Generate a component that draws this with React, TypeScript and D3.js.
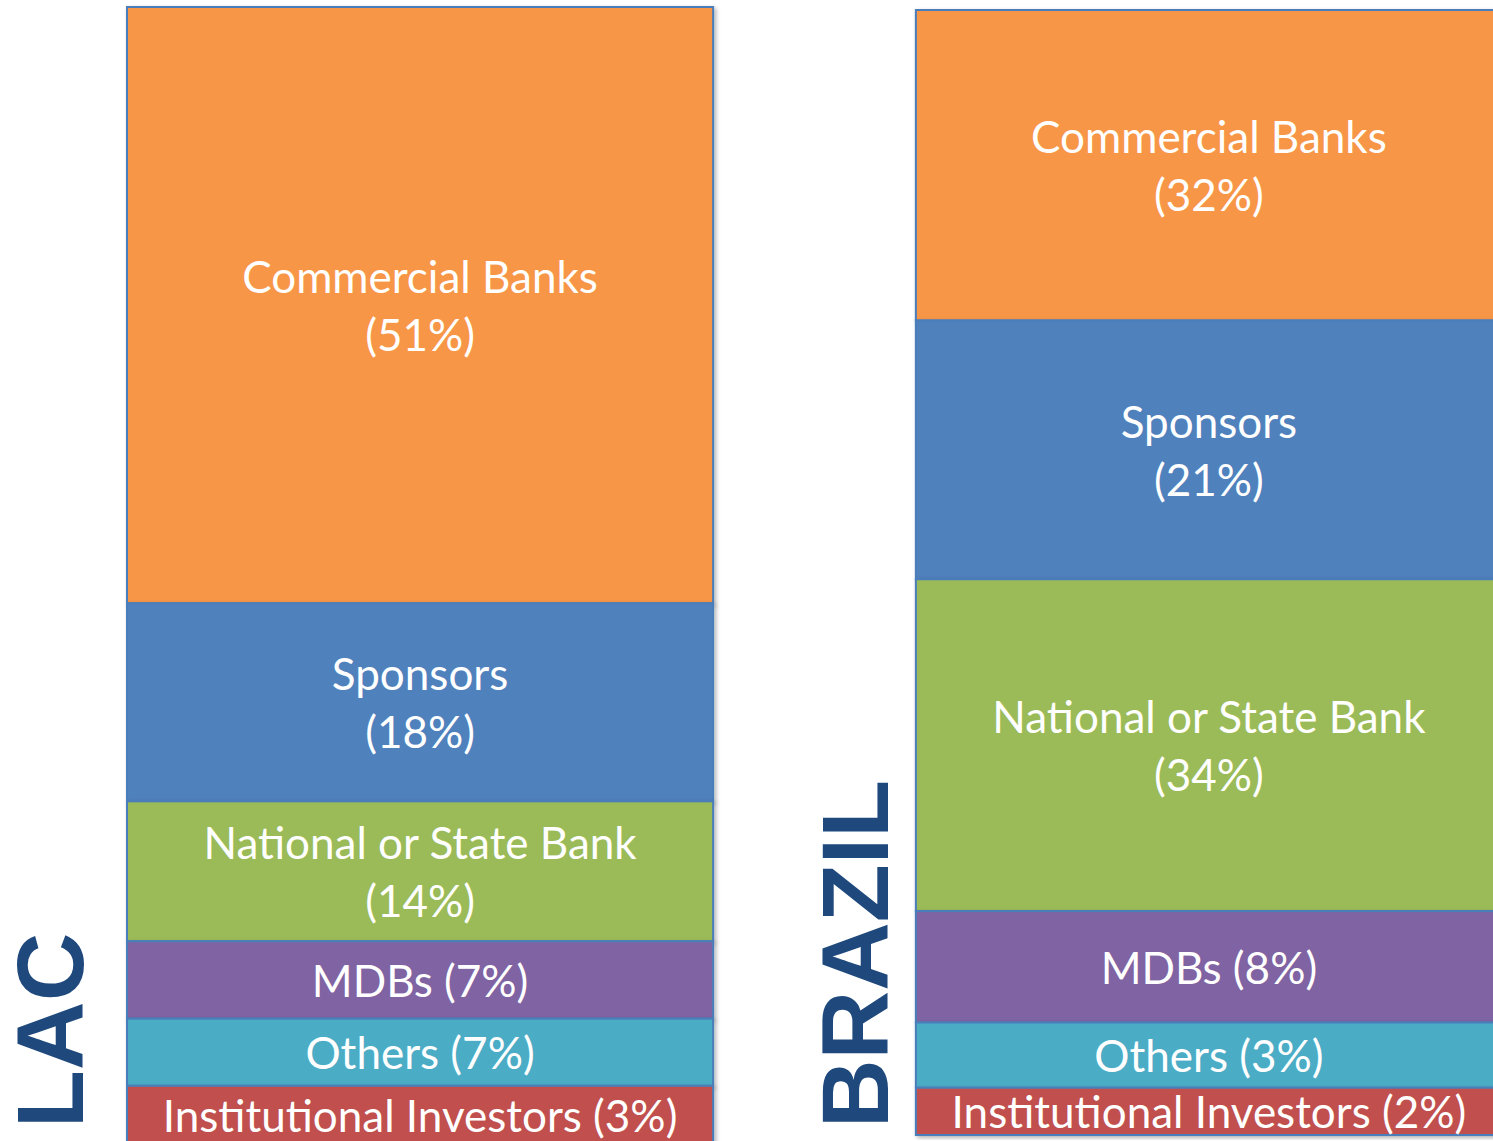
import { cumsum, scaleBand, scaleLinear } from "d3";

const categories = [
    "Commercial Banks",
    "Sponsors",
    "National or State Bank",
    "MDBs",
    "Others",
    "Institutional Investors",
];
const regions = ["LAC", "BRAZIL"];

// percentages printed in the labels
const lacShares = [51, 18, 14, 7, 7, 3];
const brazilShares = [32, 21, 34, 8, 3, 2];

// share of each bar's height (%)
const lacDrawn = [52.4, 17.4, 12.3, 6.8, 5.9, 5.2];
const brazilDrawn = [27.6, 23.0, 29.5, 9.9, 5.8, 4.2];

const twoLine = [true, true, true, false, false, false];
const colors = ["#F79646", "#4F81BD", "#9BBB59", "#8064A2", "#4BACC6", "#C0504D"];

const labelFont = "Lato, 'Open Sans', sans-serif";

interface BarProps {
    region: string;
    shares: number[];
    drawn: number[];
    x: number;
    width: number;
    top: number;
    bottom: number;
}

function StackedBar({ region, shares, drawn, x, width, top, bottom }: BarProps) {
    const y = scaleLinear().domain([0, 100]).range([top, bottom]);
    const ends = Array.from(cumsum(drawn));
    const cx = x + width / 2;

    return (
        <g>
            {categories.map((cat, i) => {
                const y0 = y(i === 0 ? 0 : ends[i - 1]);
                const y1 = y(ends[i]);
                const mid = (y0 + y1) / 2;
                const pct = `(${shares[i]}%)`;
                return (
                    <g key={`${region}-${cat}`}>
                        <rect
                            x={x}
                            y={y0}
                            width={width}
                            height={y1 - y0}
                            fill={colors[i]}
                            stroke="#4A7EBB"
                            strokeWidth={2}
                            filter="url(#shadow)"
                        />
                        {twoLine[i] ? (
                            <text
                                x={cx}
                                textAnchor="middle"
                                fill="white"
                                fontFamily={labelFont}
                                fontSize={44}
                            >
                                <tspan x={cx} y={mid - 29} dominantBaseline="central">
                                    {cat}
                                </tspan>
                                <tspan x={cx} y={mid + 29} dominantBaseline="central">
                                    {pct}
                                </tspan>
                            </text>
                        ) : (
                            <text
                                x={cx}
                                y={mid}
                                textAnchor="middle"
                                dominantBaseline="central"
                                fill="white"
                                fontFamily={labelFont}
                                fontSize={44}
                            >
                                {`${cat} ${pct}`}
                            </text>
                        )}
                    </g>
                );
            })}
        </g>
    );
}

export default function App() {
    const W = 1493;
    const H = 1141;

    const scaleX = scaleBand()
        .domain(regions)
        .range([127, 1502])
        .paddingInner(0.257)
        .paddingOuter(0);
    const bw = scaleX.bandwidth();

    return (
        <svg
            width={W}
            height={H}
            style={{ position: "absolute", left: 0, top: 0, background: "white" }}
        >
            <defs>
                <filter id="shadow" x="-5%" y="-5%" width="110%" height="115%">
                    <feDropShadow dx={2} dy={2} stdDeviation={2} floodColor="#000" floodOpacity={0.3} />
                </filter>
            </defs>

            <StackedBar
                region="LAC"
                shares={lacShares}
                drawn={lacDrawn}
                x={scaleX("LAC") ?? 0}
                width={bw}
                top={7}
                bottom={1145}
            />
            <StackedBar
                region="BRAZIL"
                shares={brazilShares}
                drawn={brazilDrawn}
                x={scaleX("BRAZIL") ?? 0}
                width={bw}
                top={10}
                bottom={1135}
            />

            <text
                transform="translate(83, 1128) rotate(-90)"
                fill="#1F497D"
                fontFamily="'Liberation Sans', Arial, sans-serif"
                fontWeight="bold"
                fontSize={95}
            >
                LAC
            </text>
            <text
                transform="translate(888, 1128) rotate(-90)"
                fill="#1F497D"
                fontFamily="'Liberation Sans', Arial, sans-serif"
                fontWeight="bold"
                fontSize={95}
            >
                BRAZIL
            </text>
        </svg>
    );
}
